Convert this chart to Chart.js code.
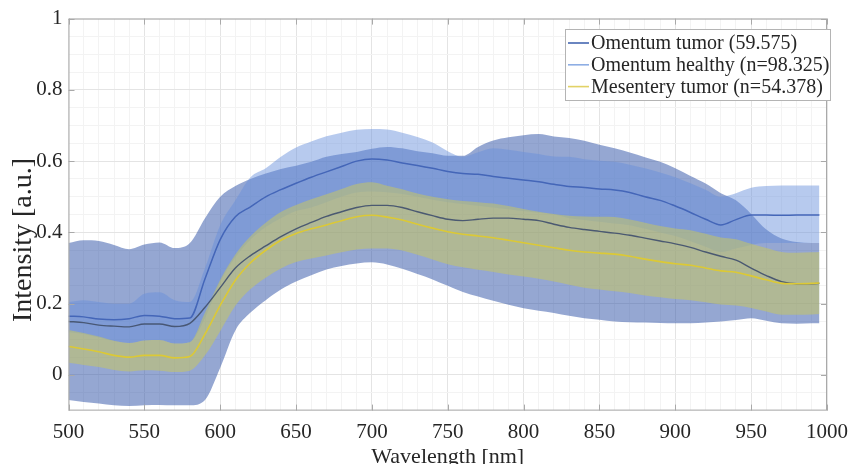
<!DOCTYPE html>
<html>
<head>
<meta charset="utf-8">
<script src="https://cdn.jsdelivr.net/npm/chart.js@4.4.1/dist/chart.umd.min.js"></script>
<style>
  html, body { margin: 0; padding: 0; background: #fff; }
  canvas { display: block; }
</style>
</head>
<body>
<canvas id="spectra" width="857" height="464"></canvas>
<script>
// wavelengths in nm
const wavelengths = [500,510,520,530,540,550,560,570,580,590,
  600,610,620,630,640,650,660,670,680,690,
  700,710,720,730,740,750,760,770,780,790,
  800,810,820,830,840,850,860,870,880,890,
  900,910,920,930,940,950,960,970,980,990,995];

const tumorMean = [0.165,0.163,0.157,0.155,0.158,0.167,0.165,0.158,0.16,0.27,
  0.38,0.444,0.472,0.5,0.52,0.538,0.555,0.57,0.585,0.6,
  0.606,0.603,0.595,0.588,0.58,0.571,0.565,0.563,0.557,0.552,
  0.547,0.542,0.535,0.529,0.526,0.522,0.519,0.512,0.5,0.49,
  0.474,0.456,0.437,0.421,0.436,0.449,0.449,0.448,0.449,0.449,0.449];
const tumorUpper = [0.205,0.21,0.205,0.2,0.2,0.228,0.232,0.21,0.205,0.3,
  0.42,0.49,0.555,0.58,0.612,0.638,0.655,0.67,0.68,0.688,
  0.69,0.689,0.68,0.668,0.652,0.628,0.612,0.625,0.636,0.632,
  0.626,0.62,0.613,0.612,0.605,0.601,0.598,0.59,0.58,0.568,
  0.555,0.538,0.52,0.5,0.51,0.525,0.53,0.532,0.532,0.532,0.532];
const tumorLower = [0.12,0.115,0.105,0.095,0.09,0.097,0.098,0.088,0.092,0.16,
  0.26,0.33,0.38,0.415,0.44,0.46,0.47,0.485,0.5,0.512,
  0.515,0.513,0.508,0.5,0.492,0.485,0.48,0.475,0.47,0.465,
  0.46,0.455,0.45,0.44,0.435,0.43,0.425,0.42,0.41,0.4,
  0.39,0.375,0.36,0.345,0.355,0.365,0.37,0.37,0.37,0.37,0.37];

const healthyMean = [0.15,0.147,0.14,0.137,0.135,0.143,0.143,0.136,0.145,0.19,
  0.245,0.3,0.335,0.362,0.388,0.41,0.428,0.445,0.458,0.47,
  0.476,0.476,0.47,0.458,0.447,0.437,0.433,0.437,0.44,0.44,
  0.437,0.433,0.423,0.414,0.408,0.403,0.398,0.392,0.384,0.376,
  0.368,0.358,0.345,0.333,0.322,0.3,0.279,0.262,0.256,0.256,0.257];
const healthyUpper = [0.37,0.378,0.376,0.365,0.353,0.366,0.372,0.356,0.37,0.44,
  0.5,0.53,0.55,0.565,0.578,0.587,0.598,0.612,0.62,0.626,
  0.635,0.64,0.636,0.628,0.622,0.615,0.615,0.64,0.658,0.667,
  0.673,0.676,0.669,0.665,0.657,0.646,0.636,0.624,0.611,0.598,
  0.58,0.558,0.537,0.51,0.49,0.452,0.408,0.383,0.373,0.37,0.37];
const healthyLower = [-0.07,-0.076,-0.08,-0.085,-0.087,-0.085,-0.084,-0.085,-0.085,-0.07,
  0.02,0.125,0.175,0.21,0.24,0.262,0.28,0.296,0.306,0.313,
  0.316,0.31,0.298,0.283,0.268,0.25,0.233,0.22,0.208,0.197,
  0.187,0.18,0.174,0.166,0.159,0.155,0.15,0.148,0.147,0.146,
  0.145,0.145,0.147,0.15,0.154,0.159,0.152,0.145,0.144,0.145,0.145];

const mesMean = [0.08,0.073,0.065,0.055,0.05,0.055,0.055,0.048,0.052,0.115,
  0.195,0.266,0.315,0.35,0.378,0.397,0.41,0.421,0.433,0.444,
  0.448,0.443,0.435,0.423,0.412,0.402,0.395,0.39,0.385,0.378,
  0.371,0.364,0.357,0.35,0.345,0.342,0.339,0.333,0.325,0.318,
  0.312,0.308,0.3,0.292,0.288,0.278,0.267,0.257,0.256,0.257,0.258];
const mesUpper = [0.126,0.118,0.108,0.096,0.09,0.097,0.098,0.088,0.092,0.175,
  0.267,0.338,0.389,0.427,0.457,0.477,0.493,0.507,0.522,0.536,
  0.541,0.531,0.521,0.509,0.5,0.493,0.488,0.485,0.481,0.474,
  0.466,0.458,0.452,0.447,0.445,0.444,0.443,0.436,0.427,0.418,
  0.411,0.406,0.396,0.386,0.381,0.368,0.356,0.345,0.343,0.344,0.345];
const mesLower = [0.034,0.028,0.022,0.014,0.01,0.013,0.012,0.008,0.012,0.055,
  0.123,0.194,0.241,0.273,0.299,0.317,0.327,0.335,0.344,0.352,
  0.355,0.355,0.349,0.337,0.324,0.311,0.302,0.295,0.289,0.282,
  0.276,0.27,0.262,0.253,0.245,0.24,0.235,0.23,0.223,0.218,
  0.213,0.21,0.204,0.198,0.195,0.188,0.178,0.169,0.169,0.17,0.171];

const seriesNames = ["Omentum tumor (59.575)", "Omentum healthy (n=98.325)", "Mesentery tumor (n=54.378)"];
const xTickLabels = [500,550,600,650,700,750,800,850,900,950,1000];
const yTickLabels = [0,0.2,0.4,0.6,0.8,1];

const serif = "'Liberation Serif', 'Times New Roman', serif";

function line(label, data, color, width) {
  return { label: label, data: data, borderColor: color, borderWidth: width,
    pointRadius: 0, fill: false, cubicInterpolationMode: "monotone" };
}
function band(data, fillColor, toNext) {
  return { label: "", data: data, borderColor: "rgba(0,0,0,0)", borderWidth: 0,
    backgroundColor: fillColor, pointRadius: 0, fill: toNext ? "+1" : false,
    cubicInterpolationMode: "monotone" };
}

// index 0 is painted last (on top)
const datasets = [
  line(seriesNames[2], mesMean, "#dcc935", 1.6),
  line(seriesNames[1], healthyMean, "rgba(70,84,112,0.95)", 1.4),
  band(mesUpper, "rgba(203,201,90,0.5)", true),
  band(mesLower, "rgba(0,0,0,0)", false),
  line(seriesNames[0], tumorMean, "#4466b8", 1.5),
  band(tumorUpper, "rgba(105,145,220,0.48)", true),
  band(tumorLower, "rgba(0,0,0,0)", false),
  band(healthyUpper, "rgba(43,79,165,0.5)", true),
  band(healthyLower, "rgba(0,0,0,0)", false)
];

const legendLines = ["#4466b0", "#8eaee4", "#e2d266"];

const framePlugin = {
  id: "frame",
  afterDraw(chart) {
    const ctx = chart.ctx;
    const a = chart.chartArea;
    const xs = chart.scales.x, ys = chart.scales.y;
    ctx.save();
    ctx.strokeStyle = "#a9a9a9";
    ctx.lineWidth = 1;
    ctx.strokeRect(a.left + 0.5, a.top + 0.5, a.right - a.left - 1, a.bottom - a.top - 1);
    ctx.beginPath();
    xTickLabels.forEach(v => {
      const px = Math.round(xs.getPixelForValue(v)) + 0.5;
      ctx.moveTo(px, a.bottom); ctx.lineTo(px, a.bottom - 6);
      ctx.moveTo(px, a.top); ctx.lineTo(px, a.top + 6);
    });
    yTickLabels.forEach(v => {
      const py = Math.round(ys.getPixelForValue(v)) + 0.5;
      ctx.moveTo(a.left, py); ctx.lineTo(a.left + 6, py);
      ctx.moveTo(a.right, py); ctx.lineTo(a.right - 6, py);
    });
    ctx.stroke();

    // axis titles
    ctx.fillStyle = "#262626";
    ctx.font = "28px " + serif;
    ctx.textAlign = "center";
    ctx.textBaseline = "alphabetic";
    ctx.save();
    ctx.translate(31, 240);
    ctx.rotate(-Math.PI / 2);
    ctx.fillText("Intensity [a.u.]", 0, 0);
    ctx.restore();
    ctx.font = "22px " + serif;
    ctx.fillText("Wavelength [nm]", (a.left + a.right) / 2, 463);

    // legend box
    const bx = 565.5, by = 29.5, bw = 265, bh = 71;
    ctx.fillStyle = "#fff";
    ctx.fillRect(bx, by, bw, bh);
    ctx.strokeStyle = "#b4b4b4";
    ctx.strokeRect(bx, by, bw, bh);
    ctx.font = "20px " + serif;
    ctx.textAlign = "left";
    ctx.textBaseline = "middle";
    seriesNames.forEach((name, i) => {
      const cy = 43 + i * 21.8;
      ctx.strokeStyle = legendLines[i];
      ctx.lineWidth = 1.6;
      ctx.beginPath();
      ctx.moveTo(568, cy); ctx.lineTo(589, cy);
      ctx.stroke();
      ctx.fillStyle = "#262626";
      ctx.fillText(name, 591, cy + 1);
    });
    ctx.restore();
  }
};

function isMajor(v, step) {
  const r = Math.round(v * 1000) / 1000;
  return Math.abs(r / step - Math.round(r / step)) < 1e-6;
}

new Chart(document.getElementById("spectra"), {
  type: "line",
  data: { labels: wavelengths, datasets: datasets },
  options: {
    responsive: false,
    animation: false,
    layout: { padding: { left: 0, right: 24.3, top: 18.5, bottom: 0 } },
    plugins: { legend: { display: false }, tooltip: { enabled: false } },
    scales: {
      x: {
        type: "linear", min: 500, max: 1000,
        afterFit(scale) { scale.height = 53.4; },
        border: { display: false },
        grid: {
          drawTicks: false,
          color: ctx => isMajor(ctx.tick.value, 50) ? "#e4e4e4" : "#f3f3f3"
        },
        ticks: {
          stepSize: 10, autoSkip: false, maxRotation: 0, padding: 9,
          color: "#262626", font: { family: serif, size: 21 },
          callback: v => isMajor(v, 50) ? String(v) : ""
        }
      },
      y: {
        min: -0.1, max: 1,
        afterFit(scale) { scale.width = 68.5; },
        border: { display: false },
        grid: {
          drawTicks: false,
          color: ctx => isMajor(ctx.tick.value, 0.2) ? "#e4e4e4" : "#f3f3f3"
        },
        ticks: {
          stepSize: 0.05, autoSkip: false, padding: 6,
          color: "#262626", font: { family: serif, size: 21 },
          callback: v => {
            const r = Math.round(v * 100) / 100;
            return (r >= 0 && isMajor(r, 0.2)) ? String(r) : "";
          }
        }
      }
    }
  },
  plugins: [framePlugin]
});
</script>
</body>
</html>
